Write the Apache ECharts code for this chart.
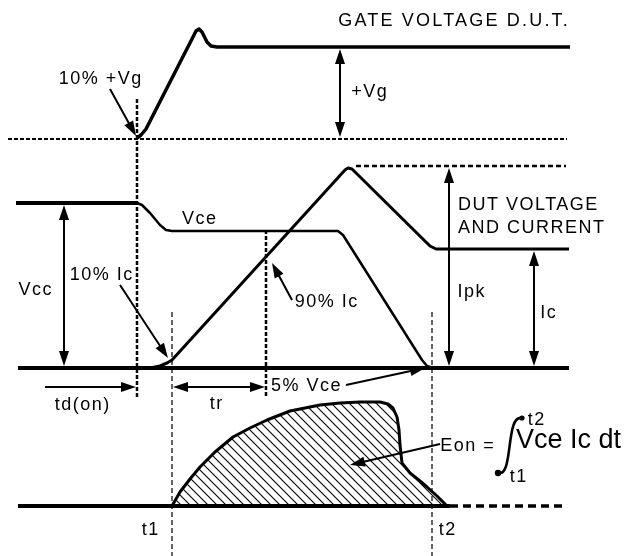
<!DOCTYPE html>
<html><head><meta charset="utf-8">
<script src="https://cdn.jsdelivr.net/npm/echarts@6/dist/echarts.min.js"></script>
<style>html,body{margin:0;padding:0;background:#fff}#c{width:626px;height:556px}</style>
</head><body><div id="c"></div>
<script>
// ---- waveform data (diagram units: x = time, y = level, y grows downward) ----
const gateWave = [[137,138],[141,135],[146,129],[193,37],[196,31],[199,29],[202,32],[207,42],[211,46],[217,47],[570,47]];
const vceHigh = [[16,203],[137,203]];
const vceWave = [[137,203],[142,205],[150,213],[160,225],[166,230],[172,231],[338,231],[343,235],[422,360],[427,366],[433,368]];
const icWave = [[150,368],[160,366],[167,363],[172,360],[345,170],[348,168],[352,169],[430,246],[436,249],[569,249]];
const lowLine = [[18,368],[569,368]];
const eonWave = [[172,506],[180,492],[190,479],[200,467],[215,452],[233,437],[250,428],[267,420],[290,411],[320,405],[340,403],[360,402],[380,402],[388,404],[393,408],[397,417],[399,430],[400,445],[402,463],[410,473],[420,481],[427,487],[437,496],[447,506]];
const eonBase = [[18,506],[450,506]];
const eonBaseDash = [[450,506],[566,506]];
const gateRef = [[8,139],[567,139]];
const ipkRef = [[356,166],[566,166]];
const markers = [[137,99,397],[266,230,397]];          // thick dotted verticals: x, y1, y2
const thinMarkers = [[172,312,556],[432,312,556]];      // thin dashed verticals
// arrows: [x1,y1,x2,y2,double]
const arrows = [
  [110,89,136,136,false],
  [340,49,340,137,true],
  [64,205,64,366,true],
  [120,285,168,358,false],
  [292,300,272,263,false],
  [449,168,449,366,true],
  [534,251,534,366,true],
  [45,387,136,387,false],
  [173,387,265,387,true],
  [346,385,425,368,false],
  [440,444,350,465,false]
];
// labels: [text, x, y, align]
const labels = [
  ['GATE VOLTAGE D.U.T.',453,21,'center'],
  ['10% +Vg',100,79,'center'],
  ['+Vg',369,92,'center'],
  ['Vce',199,219,'center'],
  ['DUT VOLTAGE',458,205,'left'],
  ['AND CURRENT',458,228,'left'],
  ['Vcc',35,290,'center'],
  ['10% Ic',101,275,'center'],
  ['90% Ic',326,302,'center'],
  ['Ipk',471,292,'center'],
  ['Ic',548,313,'center'],
  ['td(on)',82,405,'center'],
  ['tr',216,404,'center'],
  ['5% Vce',271,386,'left'],
  ['Eon =',467,446,'center'],
  ['Vce Ic dt',516,441,'left'],
  ['t2',536,420,'center'],
  ['t1',518,477,'center'],
  ['t1',150,530,'center'],
  ['t2',447,530,'center']
];
// text styling (size, letter spacing) kept apart from content
const bigText = {'Vce Ic dt':27};
const spacing = {'GATE VOLTAGE D.U.T.':2.2,'Vce Ic dt':0};

// letter spacing for canvas text (the reference typesetting is tracked out)
(function(){
  const P=CanvasRenderingContext2D.prototype, orig=P.fillText;
  P.fillText=function(t,x,y,m){
    const ls=spacing[t]!==undefined?spacing[t]:1.5;
    const prev=this.letterSpacing; this.letterSpacing=ls+'px';
    if(ls>0&&this.textAlign==='center'){x+=ls/2;}
    const r=m===undefined?orig.call(this,t,x,y):orig.call(this,t,x,y,m);
    this.letterSpacing=prev; return r;
  };
})();

function hatch(){
  const s=9,c=document.createElement('canvas');c.width=s;c.height=s;
  const g=c.getContext('2d');g.fillStyle='#fff';g.fillRect(0,0,s,s);
  g.strokeStyle='#000';g.lineWidth=1.1;g.beginPath();
  for(const k of [-s,0,s]){g.moveTo(k-1,-1);g.lineTo(k+s+1,s+1);}
  g.stroke();return c;
}

const FONT='"Liberation Sans", Arial, sans-serif';
const chart = echarts.init(document.getElementById('c'),null,{renderer:'canvas'});
function ln(data,w,type,extra){
  return Object.assign({type:'line',data:data,symbol:'none',silent:true,animation:false,
    lineStyle:{color:'#000',width:w,type:type||'solid',cap:'butt',join:'round'}},extra||{});
}
const series=[];
series.push(ln(gateRef,2,[4,2]));
series.push(ln(ipkRef,2.5,[5,3]));
markers.forEach(m=>series.push(ln([[m[0],m[1]],[m[0],m[2]]],2.5,[4,2])));
thinMarkers.forEach(m=>series.push(ln([[m[0],m[1]],[m[0],m[2]]],1.2,[5,3])));
series.push(ln(gateWave,3.5));
series.push(ln(vceHigh,4));
series.push(ln(vceWave,2.5));
series.push(ln(icWave,3));
series.push(ln(lowLine,4));
series.push(ln(eonWave,3,'solid',{areaStyle:{origin:506,color:{image:hatch(),repeat:'repeat'},opacity:1}}));
series.push(ln(eonBase,4));
series.push(ln(eonBaseDash,3.5,[8,5]));
// arrows via markLine
const HEAD=15;
function shrink(x1,y1,x2,y2,d){const L=Math.hypot(x2-x1,y2-y1);return [x2-(x2-x1)/L*d,y2-(y2-y1)/L*d];}
const mlData=arrows.map(a=>{
  const [x1,y1,x2,y2,dbl]=a;
  const e=shrink(x1,y1,x2,y2,HEAD/2);
  const s=dbl?shrink(x2,y2,x1,y1,HEAD/2):[x1,y1];
  return [{coord:s,symbol:dbl?'triangle':'none'},{coord:e,symbol:'triangle'}];
});
series.push({type:'line',data:[],silent:true,animation:false,z:5,
  markLine:{silent:true,animation:false,symbol:['none','triangle'],symbolSize:[10,HEAD],
    label:{show:false},lineStyle:{color:'#000',width:2,type:'solid'},
    itemStyle:{color:'#000'},emphasis:{disabled:true},data:mlData}});

const graphic=labels.map(l=>({type:'text',silent:true,x:l[1],y:l[2],
  style:{text:l[0],fill:'#000',font:(bigText[l[0]]||18)+'px '+FONT,textAlign:l[3],textVerticalAlign:'middle'}}));
graphic.push({type:'bezierCurve',silent:true,shape:{x1:498,y1:473,cpx1:514,cpy1:478,cpx2:505,cpy2:414,x2:522,y2:418},style:{stroke:'#000',lineWidth:2.6,fill:null}});
graphic.push({type:'circle',silent:true,shape:{cx:498,cy:473,r:3.2},style:{fill:'#000'}});
graphic.push({type:'circle',silent:true,shape:{cx:522,cy:418,r:2.6},style:{fill:'#000'}});

chart.setOption({
  animation:false,
  grid:{left:0,right:0,top:0,bottom:0},
  xAxis:{type:'value',min:0,max:626,show:false},
  yAxis:{type:'value',min:0,max:556,inverse:true,show:false},
  series:series,
  graphic:graphic
});
</script></body></html>
